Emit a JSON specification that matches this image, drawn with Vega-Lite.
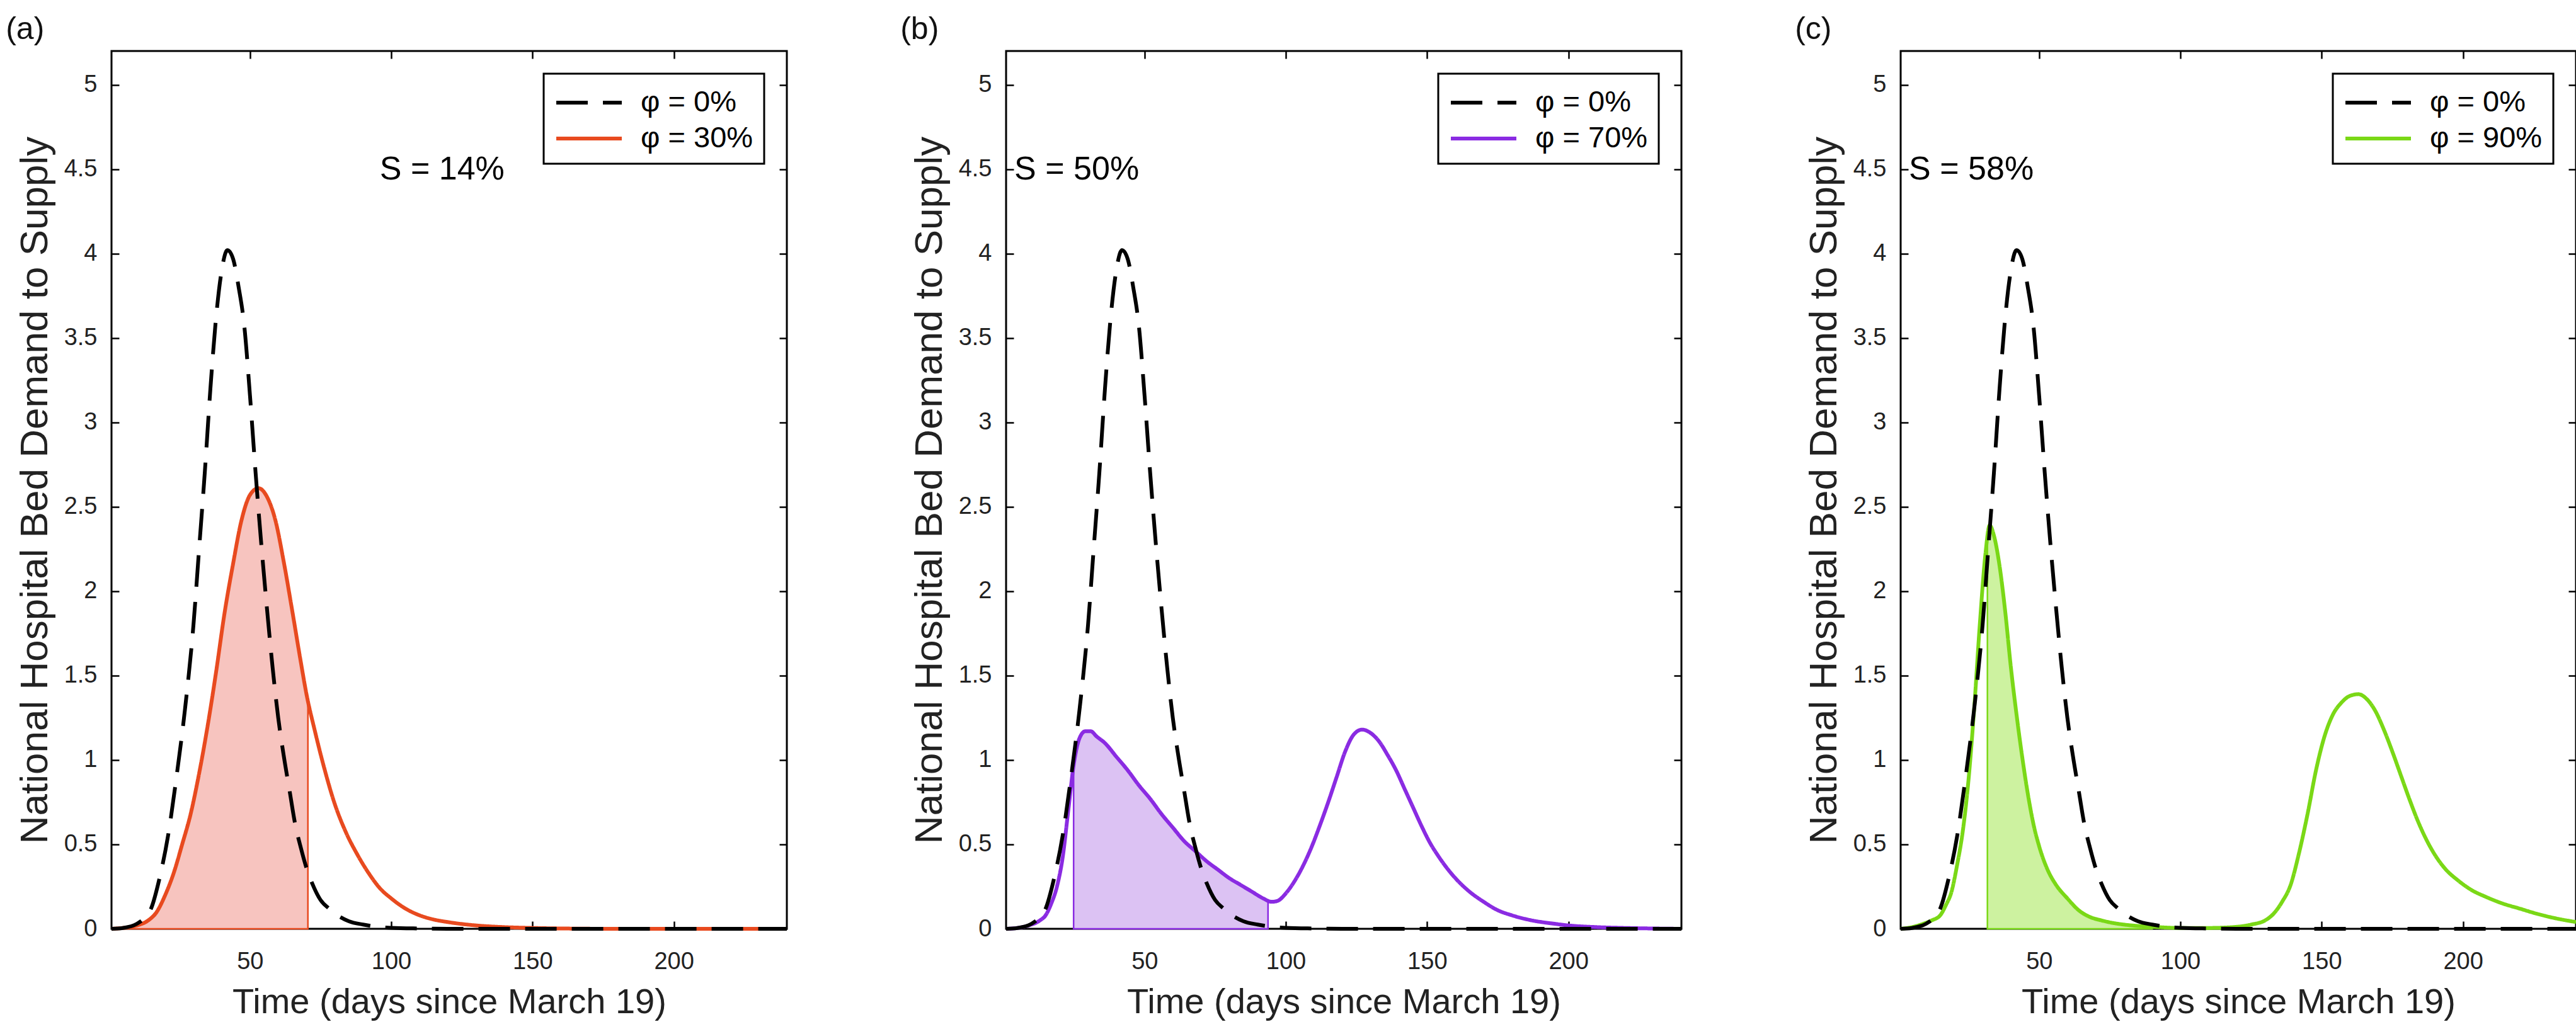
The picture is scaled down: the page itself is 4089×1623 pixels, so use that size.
{
  "$schema": "https://vega.github.io/schema/vega-lite/v6.json",
  "background": "#ffffff",
  "padding": {"left": 7, "top": 20, "right": 0, "bottom": 0},
  "spacing": 164,
  "config": {
    "font": "Liberation Sans",
    "view": {"stroke": "#000000", "strokeWidth": 3},
    "axis": {"grid": false, "domain": false, "tickColor": "#000000", "tickWidth": 2.5, "tickSize": -12, "labelFont": "Liberation Sans", "labelFontSize": 38, "labelColor": "#222222", "titleFont": "Liberation Sans", "titleFontWeight": "normal", "titleColor": "#222222"},
    "axisX": {"labelPadding": 45, "titleFontSize": 56, "titlePadding": 18},
    "axisY": {"labelPadding": 35, "titleFontSize": 62, "titlePadding": 14},
    "legend": {"strokeColor": "#000000", "strokeWidth": 3, "fillColor": "#ffffff", "padding": 17, "labelFont": "Liberation Sans", "labelFontSize": 47, "labelColor": "#000000", "labelLimit": 600, "symbolStrokeWidth": 6, "rowPadding": 5},
    "title": {"font": "Liberation Sans", "fontSize": 50, "fontWeight": "normal", "color": "#111111", "anchor": "start", "frame": "bounds", "offset": 8, "dx": -15}
  },
  "resolve": {"scale": {"x": "independent", "y": "independent", "color": "independent", "strokeDash": "independent"}, "legend": {"color": "independent", "strokeDash": "independent"}},
  "datasets": {
    "base": [
      {"d": 1, "v": 0, "s": "φ = 0%"}, {"d": 5, "v": 0.005, "s": "φ = 0%"}, {"d": 10, "v": 0.03, "s": "φ = 0%"}, {"d": 13, "v": 0.07, "s": "φ = 0%"}, {"d": 15, "v": 0.12, "s": "φ = 0%"}, {"d": 18, "v": 0.3, "s": "φ = 0%"}, {"d": 21, "v": 0.55, "s": "φ = 0%"}, {"d": 24, "v": 0.9, "s": "φ = 0%"}, {"d": 27, "v": 1.3, "s": "φ = 0%"}, {"d": 30, "v": 1.8, "s": "φ = 0%"}, {"d": 32, "v": 2.25, "s": "φ = 0%"}, {"d": 34, "v": 2.7, "s": "φ = 0%"}, {"d": 36, "v": 3.2, "s": "φ = 0%"}, {"d": 38, "v": 3.62, "s": "φ = 0%"}, {"d": 40, "v": 3.9, "s": "φ = 0%"}, {"d": 42, "v": 4.02, "s": "φ = 0%"}, {"d": 44, "v": 3.97, "s": "φ = 0%"}, {"d": 46, "v": 3.8, "s": "φ = 0%"}, {"d": 48, "v": 3.57, "s": "φ = 0%"}, {"d": 50, "v": 3.16, "s": "φ = 0%"}, {"d": 52, "v": 2.7, "s": "φ = 0%"}, {"d": 54, "v": 2.28, "s": "φ = 0%"}, {"d": 56, "v": 1.9, "s": "φ = 0%"}, {"d": 58, "v": 1.55, "s": "φ = 0%"}, {"d": 60, "v": 1.25, "s": "φ = 0%"}, {"d": 62, "v": 1.02, "s": "φ = 0%"}, {"d": 64, "v": 0.82, "s": "φ = 0%"}, {"d": 66, "v": 0.62, "s": "φ = 0%"}, {"d": 68, "v": 0.48, "s": "φ = 0%"}, {"d": 70, "v": 0.36, "s": "φ = 0%"}, {"d": 72, "v": 0.27, "s": "φ = 0%"}, {"d": 75, "v": 0.17, "s": "φ = 0%"}, {"d": 78, "v": 0.12, "s": "φ = 0%"}, {"d": 81, "v": 0.08, "s": "φ = 0%"}, {"d": 85, "v": 0.045, "s": "φ = 0%"}, {"d": 90, "v": 0.025, "s": "φ = 0%"}, {"d": 95, "v": 0.012, "s": "φ = 0%"}, {"d": 100, "v": 0.006, "s": "φ = 0%"}, {"d": 110, "v": 0.002, "s": "φ = 0%"}, {"d": 120, "v": 0, "s": "φ = 0%"}, {"d": 240, "v": 0, "s": "φ = 0%"}
    ],
    "lineA": [
      {"d": 1, "v": 0, "s": "φ = 30%"}, {"d": 5, "v": 0.005, "s": "φ = 30%"}, {"d": 10, "v": 0.02, "s": "φ = 30%"}, {"d": 14, "v": 0.05, "s": "φ = 30%"}, {"d": 17, "v": 0.1, "s": "φ = 30%"}, {"d": 20, "v": 0.2, "s": "φ = 30%"}, {"d": 23, "v": 0.33, "s": "φ = 30%"}, {"d": 26, "v": 0.5, "s": "φ = 30%"}, {"d": 29, "v": 0.68, "s": "φ = 30%"}, {"d": 32, "v": 0.92, "s": "φ = 30%"}, {"d": 35, "v": 1.2, "s": "φ = 30%"}, {"d": 38, "v": 1.52, "s": "φ = 30%"}, {"d": 41, "v": 1.87, "s": "φ = 30%"}, {"d": 44, "v": 2.16, "s": "φ = 30%"}, {"d": 47, "v": 2.42, "s": "φ = 30%"}, {"d": 50, "v": 2.57, "s": "φ = 30%"}, {"d": 53, "v": 2.61, "s": "φ = 30%"}, {"d": 56, "v": 2.56, "s": "φ = 30%"}, {"d": 59, "v": 2.42, "s": "φ = 30%"}, {"d": 62, "v": 2.17, "s": "φ = 30%"}, {"d": 65, "v": 1.88, "s": "φ = 30%"}, {"d": 68, "v": 1.58, "s": "φ = 30%"}, {"d": 70, "v": 1.39, "s": "φ = 30%"}, {"d": 73, "v": 1.17, "s": "φ = 30%"}, {"d": 76, "v": 0.97, "s": "φ = 30%"}, {"d": 80, "v": 0.74, "s": "φ = 30%"}, {"d": 84, "v": 0.57, "s": "φ = 30%"}, {"d": 88, "v": 0.44, "s": "φ = 30%"}, {"d": 92, "v": 0.33, "s": "φ = 30%"}, {"d": 96, "v": 0.24, "s": "φ = 30%"}, {"d": 100, "v": 0.18, "s": "φ = 30%"}, {"d": 105, "v": 0.12, "s": "φ = 30%"}, {"d": 110, "v": 0.08, "s": "φ = 30%"}, {"d": 115, "v": 0.055, "s": "φ = 30%"}, {"d": 120, "v": 0.04, "s": "φ = 30%"}, {"d": 130, "v": 0.02, "s": "φ = 30%"}, {"d": 140, "v": 0.01, "s": "φ = 30%"}, {"d": 150, "v": 0.005, "s": "φ = 30%"}, {"d": 160, "v": 0.002, "s": "φ = 30%"}, {"d": 180, "v": 0, "s": "φ = 30%"}, {"d": 240, "v": 0, "s": "φ = 30%"}
    ],
    "fillA": [
      {"d": 1, "v": 0}, {"d": 5, "v": 0.005}, {"d": 10, "v": 0.02}, {"d": 14, "v": 0.05}, {"d": 17, "v": 0.1}, {"d": 20, "v": 0.2}, {"d": 23, "v": 0.33}, {"d": 26, "v": 0.5}, {"d": 29, "v": 0.68}, {"d": 32, "v": 0.92}, {"d": 35, "v": 1.2}, {"d": 38, "v": 1.52}, {"d": 41, "v": 1.87}, {"d": 44, "v": 2.16}, {"d": 47, "v": 2.42}, {"d": 50, "v": 2.57}, {"d": 53, "v": 2.61}, {"d": 56, "v": 2.56}, {"d": 59, "v": 2.42}, {"d": 62, "v": 2.17}, {"d": 65, "v": 1.88}, {"d": 68, "v": 1.58}, {"d": 70, "v": 1.39}, {"d": 70.5, "v": 1.36}
    ],
    "lineB": [
      {"d": 1, "v": 0, "s": "φ = 70%"}, {"d": 5, "v": 0.005, "s": "φ = 70%"}, {"d": 9, "v": 0.02, "s": "φ = 70%"}, {"d": 13, "v": 0.05, "s": "φ = 70%"}, {"d": 15, "v": 0.08, "s": "φ = 70%"}, {"d": 17, "v": 0.15, "s": "φ = 70%"}, {"d": 19, "v": 0.25, "s": "φ = 70%"}, {"d": 21, "v": 0.42, "s": "φ = 70%"}, {"d": 23, "v": 0.7, "s": "φ = 70%"}, {"d": 25, "v": 0.98, "s": "φ = 70%"}, {"d": 27, "v": 1.13, "s": "φ = 70%"}, {"d": 29, "v": 1.17, "s": "φ = 70%"}, {"d": 31, "v": 1.17, "s": "φ = 70%"}, {"d": 33, "v": 1.14, "s": "φ = 70%"}, {"d": 36, "v": 1.1, "s": "φ = 70%"}, {"d": 40, "v": 1.02, "s": "φ = 70%"}, {"d": 44, "v": 0.94, "s": "φ = 70%"}, {"d": 48, "v": 0.85, "s": "φ = 70%"}, {"d": 52, "v": 0.77, "s": "φ = 70%"}, {"d": 56, "v": 0.68, "s": "φ = 70%"}, {"d": 60, "v": 0.6, "s": "φ = 70%"}, {"d": 64, "v": 0.52, "s": "φ = 70%"}, {"d": 68, "v": 0.46, "s": "φ = 70%"}, {"d": 72, "v": 0.4, "s": "φ = 70%"}, {"d": 76, "v": 0.35, "s": "φ = 70%"}, {"d": 80, "v": 0.3, "s": "φ = 70%"}, {"d": 84, "v": 0.26, "s": "φ = 70%"}, {"d": 88, "v": 0.22, "s": "φ = 70%"}, {"d": 92, "v": 0.18, "s": "φ = 70%"}, {"d": 95, "v": 0.16, "s": "φ = 70%"}, {"d": 97, "v": 0.165, "s": "φ = 70%"}, {"d": 100, "v": 0.21, "s": "φ = 70%"}, {"d": 103, "v": 0.28, "s": "φ = 70%"}, {"d": 106, "v": 0.37, "s": "φ = 70%"}, {"d": 109, "v": 0.48, "s": "φ = 70%"}, {"d": 112, "v": 0.61, "s": "φ = 70%"}, {"d": 115, "v": 0.75, "s": "φ = 70%"}, {"d": 118, "v": 0.9, "s": "φ = 70%"}, {"d": 121, "v": 1.05, "s": "φ = 70%"}, {"d": 124, "v": 1.15, "s": "φ = 70%"}, {"d": 127, "v": 1.18, "s": "φ = 70%"}, {"d": 130, "v": 1.16, "s": "φ = 70%"}, {"d": 133, "v": 1.11, "s": "φ = 70%"}, {"d": 136, "v": 1.03, "s": "φ = 70%"}, {"d": 139, "v": 0.94, "s": "φ = 70%"}, {"d": 142, "v": 0.83, "s": "φ = 70%"}, {"d": 145, "v": 0.72, "s": "φ = 70%"}, {"d": 148, "v": 0.61, "s": "φ = 70%"}, {"d": 151, "v": 0.51, "s": "φ = 70%"}, {"d": 154, "v": 0.43, "s": "φ = 70%"}, {"d": 157, "v": 0.36, "s": "φ = 70%"}, {"d": 160, "v": 0.3, "s": "φ = 70%"}, {"d": 165, "v": 0.22, "s": "φ = 70%"}, {"d": 170, "v": 0.16, "s": "φ = 70%"}, {"d": 175, "v": 0.11, "s": "φ = 70%"}, {"d": 180, "v": 0.08, "s": "φ = 70%"}, {"d": 187, "v": 0.05, "s": "φ = 70%"}, {"d": 195, "v": 0.03, "s": "φ = 70%"}, {"d": 200, "v": 0.02, "s": "φ = 70%"}, {"d": 210, "v": 0.01, "s": "φ = 70%"}, {"d": 220, "v": 0.005, "s": "φ = 70%"}, {"d": 240, "v": 0, "s": "φ = 70%"}
    ],
    "fillB": [
      {"d": 24.9, "v": 0.97}, {"d": 27, "v": 1.13}, {"d": 29, "v": 1.17}, {"d": 31, "v": 1.17}, {"d": 33, "v": 1.14}, {"d": 36, "v": 1.1}, {"d": 40, "v": 1.02}, {"d": 44, "v": 0.94}, {"d": 48, "v": 0.85}, {"d": 52, "v": 0.77}, {"d": 56, "v": 0.68}, {"d": 60, "v": 0.6}, {"d": 64, "v": 0.52}, {"d": 68, "v": 0.46}, {"d": 72, "v": 0.4}, {"d": 76, "v": 0.35}, {"d": 80, "v": 0.3}, {"d": 84, "v": 0.26}, {"d": 88, "v": 0.22}, {"d": 92, "v": 0.18}, {"d": 93.7, "v": 0.17}
    ],
    "lineC": [
      {"d": 1, "v": 0, "s": "φ = 90%"}, {"d": 5, "v": 0.01, "s": "φ = 90%"}, {"d": 9, "v": 0.03, "s": "φ = 90%"}, {"d": 12, "v": 0.05, "s": "φ = 90%"}, {"d": 15, "v": 0.08, "s": "φ = 90%"}, {"d": 17, "v": 0.14, "s": "φ = 90%"}, {"d": 19, "v": 0.22, "s": "φ = 90%"}, {"d": 21, "v": 0.38, "s": "φ = 90%"}, {"d": 23, "v": 0.58, "s": "φ = 90%"}, {"d": 25, "v": 0.88, "s": "φ = 90%"}, {"d": 27, "v": 1.3, "s": "φ = 90%"}, {"d": 29, "v": 1.8, "s": "φ = 90%"}, {"d": 31, "v": 2.22, "s": "φ = 90%"}, {"d": 32.5, "v": 2.39, "s": "φ = 90%"}, {"d": 34, "v": 2.33, "s": "φ = 90%"}, {"d": 36, "v": 2.15, "s": "φ = 90%"}, {"d": 38, "v": 1.88, "s": "φ = 90%"}, {"d": 40, "v": 1.55, "s": "φ = 90%"}, {"d": 42, "v": 1.27, "s": "φ = 90%"}, {"d": 44, "v": 1.02, "s": "φ = 90%"}, {"d": 46, "v": 0.8, "s": "φ = 90%"}, {"d": 48, "v": 0.62, "s": "φ = 90%"}, {"d": 50, "v": 0.49, "s": "φ = 90%"}, {"d": 53, "v": 0.35, "s": "φ = 90%"}, {"d": 56, "v": 0.26, "s": "φ = 90%"}, {"d": 60, "v": 0.18, "s": "φ = 90%"}, {"d": 64, "v": 0.11, "s": "φ = 90%"}, {"d": 68, "v": 0.07, "s": "φ = 90%"}, {"d": 72, "v": 0.05, "s": "φ = 90%"}, {"d": 76, "v": 0.035, "s": "φ = 90%"}, {"d": 80, "v": 0.025, "s": "φ = 90%"}, {"d": 90, "v": 0.012, "s": "φ = 90%"}, {"d": 100, "v": 0.005, "s": "φ = 90%"}, {"d": 110, "v": 0.005, "s": "φ = 90%"}, {"d": 120, "v": 0.012, "s": "φ = 90%"}, {"d": 125, "v": 0.025, "s": "φ = 90%"}, {"d": 130, "v": 0.05, "s": "φ = 90%"}, {"d": 133, "v": 0.09, "s": "φ = 90%"}, {"d": 136, "v": 0.16, "s": "φ = 90%"}, {"d": 139, "v": 0.26, "s": "φ = 90%"}, {"d": 142, "v": 0.45, "s": "φ = 90%"}, {"d": 145, "v": 0.68, "s": "φ = 90%"}, {"d": 148, "v": 0.94, "s": "φ = 90%"}, {"d": 151, "v": 1.14, "s": "φ = 90%"}, {"d": 154, "v": 1.27, "s": "φ = 90%"}, {"d": 157, "v": 1.34, "s": "φ = 90%"}, {"d": 160, "v": 1.38, "s": "φ = 90%"}, {"d": 163, "v": 1.39, "s": "φ = 90%"}, {"d": 166, "v": 1.36, "s": "φ = 90%"}, {"d": 169, "v": 1.29, "s": "φ = 90%"}, {"d": 172, "v": 1.18, "s": "φ = 90%"}, {"d": 175, "v": 1.05, "s": "φ = 90%"}, {"d": 178, "v": 0.91, "s": "φ = 90%"}, {"d": 181, "v": 0.77, "s": "φ = 90%"}, {"d": 184, "v": 0.64, "s": "φ = 90%"}, {"d": 187, "v": 0.53, "s": "φ = 90%"}, {"d": 190, "v": 0.44, "s": "φ = 90%"}, {"d": 194, "v": 0.35, "s": "φ = 90%"}, {"d": 198, "v": 0.29, "s": "φ = 90%"}, {"d": 203, "v": 0.23, "s": "φ = 90%"}, {"d": 208, "v": 0.19, "s": "φ = 90%"}, {"d": 214, "v": 0.15, "s": "φ = 90%"}, {"d": 220, "v": 0.12, "s": "φ = 90%"}, {"d": 226, "v": 0.09, "s": "φ = 90%"}, {"d": 232, "v": 0.065, "s": "φ = 90%"}, {"d": 240, "v": 0.04, "s": "φ = 90%"}
    ],
    "fillC": [
      {"d": 31.7, "v": 2.3}, {"d": 32.5, "v": 2.39}, {"d": 34, "v": 2.33}, {"d": 36, "v": 2.15}, {"d": 38, "v": 1.88}, {"d": 40, "v": 1.55}, {"d": 42, "v": 1.27}, {"d": 44, "v": 1.02}, {"d": 46, "v": 0.8}, {"d": 48, "v": 0.62}, {"d": 50, "v": 0.49}, {"d": 53, "v": 0.35}, {"d": 56, "v": 0.26}, {"d": 60, "v": 0.18}, {"d": 64, "v": 0.11}, {"d": 68, "v": 0.07}, {"d": 72, "v": 0.05}, {"d": 76, "v": 0.035}, {"d": 80, "v": 0.025}, {"d": 90, "v": 0.012}
    ]
  },
  "hconcat": [
    {
      "width": 1072, "height": 1394,
      "title": {"text": "(a)"},
      "layer": [
        {"data": {"name": "fillA"}, "mark": {"type": "area", "interpolate": "monotone", "color": "#F7C4BF", "stroke": "#E84A1F", "strokeWidth": 2.5, "opacity": 1},
         "encoding": {
           "x": {"field": "d", "type": "quantitative", "scale": {"domain": [1, 240], "nice": false, "zero": false}, "axis": {"orient": "bottom", "values": [50, 100, 150, 200], "title": "Time (days since March 19)"}},
           "y": {"field": "v", "type": "quantitative", "scale": {"domain": [0, 5.2], "nice": false}, "axis": {"orient": "left", "values": [0, 0.5, 1, 1.5, 2, 2.5, 3, 3.5, 4, 4.5, 5], "format": "~g", "title": "National Hospital Bed Demand to Supply"}}}},
        {"data": {"name": "lineA"}, "mark": {"type": "line", "interpolate": "monotone", "strokeWidth": 6},
         "encoding": {
           "x": {"field": "d", "type": "quantitative", "axis": {"orient": "top", "values": [50, 100, 150, 200], "labels": false, "title": null}},
           "y": {"field": "v", "type": "quantitative", "axis": {"orient": "right", "values": [0, 0.5, 1, 1.5, 2, 2.5, 3, 3.5, 4, 4.5, 5], "labels": false, "title": null}},
           "color": {"field": "s", "type": "nominal", "scale": {"domain": ["φ = 0%", "φ = 30%"], "range": ["#000000", "#E84A1F"]}, "legend": {"title": null, "orient": "top-right", "offset": 36, "symbolType": "M-1,0H3", "symbolSize": 2704, "labelOffset": 79}},
           "strokeDash": {"field": "s", "type": "nominal", "scale": {"domain": ["φ = 0%", "φ = 30%"], "range": [[50, 24], [1, 0]]}, "legend": {"title": null, "orient": "top-right", "offset": 36, "symbolType": "M-1,0H3", "symbolSize": 2704, "labelOffset": 79}}}},
        {"data": {"name": "base"}, "mark": {"type": "line", "interpolate": "monotone", "strokeWidth": 6},
         "encoding": {
           "x": {"field": "d", "type": "quantitative", "axis": null},
           "y": {"field": "v", "type": "quantitative", "axis": null},
           "color": {"field": "s", "type": "nominal"},
           "strokeDash": {"field": "s", "type": "nominal"}}},
        {"data": {"values": [{"d": 118, "v": 4.5, "t": "S = 14%"}]}, "mark": {"type": "text", "fontSize": 52, "font": "Liberation Sans", "color": "#000000", "align": "center", "baseline": "middle"},
         "encoding": {
           "x": {"field": "d", "type": "quantitative", "axis": null},
           "y": {"field": "v", "type": "quantitative", "axis": null},
           "text": {"field": "t"}}}
      ],
      "resolve": {"axis": {"x": "independent", "y": "independent"}}
    },
    {
      "width": 1072, "height": 1394,
      "title": {"text": "(b)"},
      "layer": [
        {"data": {"name": "fillB"}, "mark": {"type": "area", "interpolate": "monotone", "color": "#DCC2F3", "stroke": "#8A2BE2", "strokeWidth": 2.5, "opacity": 1},
         "encoding": {
           "x": {"field": "d", "type": "quantitative", "scale": {"domain": [1, 240], "nice": false, "zero": false}, "axis": {"orient": "bottom", "values": [50, 100, 150, 200], "title": "Time (days since March 19)"}},
           "y": {"field": "v", "type": "quantitative", "scale": {"domain": [0, 5.2], "nice": false}, "axis": {"orient": "left", "values": [0, 0.5, 1, 1.5, 2, 2.5, 3, 3.5, 4, 4.5, 5], "format": "~g", "title": "National Hospital Bed Demand to Supply"}}}},
        {"data": {"name": "lineB"}, "mark": {"type": "line", "interpolate": "monotone", "strokeWidth": 6},
         "encoding": {
           "x": {"field": "d", "type": "quantitative", "axis": {"orient": "top", "values": [50, 100, 150, 200], "labels": false, "title": null}},
           "y": {"field": "v", "type": "quantitative", "axis": {"orient": "right", "values": [0, 0.5, 1, 1.5, 2, 2.5, 3, 3.5, 4, 4.5, 5], "labels": false, "title": null}},
           "color": {"field": "s", "type": "nominal", "scale": {"domain": ["φ = 0%", "φ = 70%"], "range": ["#000000", "#8A2BE2"]}, "legend": {"title": null, "orient": "top-right", "offset": 36, "symbolType": "M-1,0H3", "symbolSize": 2704, "labelOffset": 79}},
           "strokeDash": {"field": "s", "type": "nominal", "scale": {"domain": ["φ = 0%", "φ = 70%"], "range": [[50, 24], [1, 0]]}, "legend": {"title": null, "orient": "top-right", "offset": 36, "symbolType": "M-1,0H3", "symbolSize": 2704, "labelOffset": 79}}}},
        {"data": {"name": "base"}, "mark": {"type": "line", "interpolate": "monotone", "strokeWidth": 6},
         "encoding": {
           "x": {"field": "d", "type": "quantitative", "axis": null},
           "y": {"field": "v", "type": "quantitative", "axis": null},
           "color": {"field": "s", "type": "nominal"},
           "strokeDash": {"field": "s", "type": "nominal"}}},
        {"data": {"values": [{"d": 26, "v": 4.5, "t": "S = 50%"}]}, "mark": {"type": "text", "fontSize": 52, "font": "Liberation Sans", "color": "#000000", "align": "center", "baseline": "middle"},
         "encoding": {
           "x": {"field": "d", "type": "quantitative", "axis": null},
           "y": {"field": "v", "type": "quantitative", "axis": null},
           "text": {"field": "t"}}}
      ],
      "resolve": {"axis": {"x": "independent", "y": "independent"}}
    },
    {
      "width": 1072, "height": 1394,
      "title": {"text": "(c)"},
      "layer": [
        {"data": {"name": "fillC"}, "mark": {"type": "area", "interpolate": "monotone", "color": "#CDF2A0", "stroke": "#7AD816", "strokeWidth": 2.5, "opacity": 1},
         "encoding": {
           "x": {"field": "d", "type": "quantitative", "scale": {"domain": [1, 240], "nice": false, "zero": false}, "axis": {"orient": "bottom", "values": [50, 100, 150, 200], "title": "Time (days since March 19)"}},
           "y": {"field": "v", "type": "quantitative", "scale": {"domain": [0, 5.2], "nice": false}, "axis": {"orient": "left", "values": [0, 0.5, 1, 1.5, 2, 2.5, 3, 3.5, 4, 4.5, 5], "format": "~g", "title": "National Hospital Bed Demand to Supply"}}}},
        {"data": {"name": "lineC"}, "mark": {"type": "line", "interpolate": "monotone", "strokeWidth": 6},
         "encoding": {
           "x": {"field": "d", "type": "quantitative", "axis": {"orient": "top", "values": [50, 100, 150, 200], "labels": false, "title": null}},
           "y": {"field": "v", "type": "quantitative", "axis": {"orient": "right", "values": [0, 0.5, 1, 1.5, 2, 2.5, 3, 3.5, 4, 4.5, 5], "labels": false, "title": null}},
           "color": {"field": "s", "type": "nominal", "scale": {"domain": ["φ = 0%", "φ = 90%"], "range": ["#000000", "#7AD816"]}, "legend": {"title": null, "orient": "top-right", "offset": 36, "symbolType": "M-1,0H3", "symbolSize": 2704, "labelOffset": 79}},
           "strokeDash": {"field": "s", "type": "nominal", "scale": {"domain": ["φ = 0%", "φ = 90%"], "range": [[50, 24], [1, 0]]}, "legend": {"title": null, "orient": "top-right", "offset": 36, "symbolType": "M-1,0H3", "symbolSize": 2704, "labelOffset": 79}}}},
        {"data": {"name": "base"}, "mark": {"type": "line", "interpolate": "monotone", "strokeWidth": 6},
         "encoding": {
           "x": {"field": "d", "type": "quantitative", "axis": null},
           "y": {"field": "v", "type": "quantitative", "axis": null},
           "color": {"field": "s", "type": "nominal"},
           "strokeDash": {"field": "s", "type": "nominal"}}},
        {"data": {"values": [{"d": 26, "v": 4.5, "t": "S = 58%"}]}, "mark": {"type": "text", "fontSize": 52, "font": "Liberation Sans", "color": "#000000", "align": "center", "baseline": "middle"},
         "encoding": {
           "x": {"field": "d", "type": "quantitative", "axis": null},
           "y": {"field": "v", "type": "quantitative", "axis": null},
           "text": {"field": "t"}}}
      ],
      "resolve": {"axis": {"x": "independent", "y": "independent"}}
    }
  ]
}
